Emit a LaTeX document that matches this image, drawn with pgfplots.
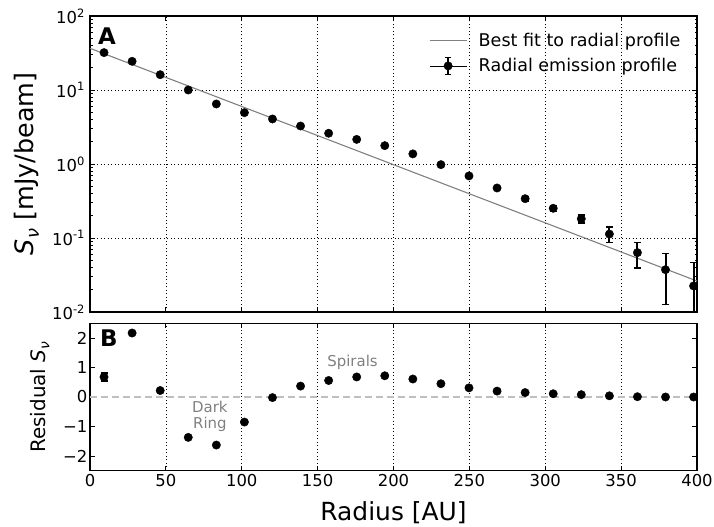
\documentclass[border=0pt]{standalone}
\usepackage{fontspec}
\setmainfont{DejaVu Sans}
\usepackage{pgfplots}
\pgfplotsset{compat=1.18}
\usepackage{pgfplotstable}

\definecolor{fitgray}{gray}{0.5}
\definecolor{zerogray}{gray}{0.75}
\definecolor{anngray}{gray}{0.5}

\newcommand{\Snu}[1]{{\itshape S}\kern0.02em\raisebox{-0.22em}{\fontsize{#1}{#1}\selectfont\itshape ν}}

\pgfplotstableread{
x y ep em
9.25 32.0 0.3 0.3
27.75 24.4 0.3 0.3
46.25 16.1 0.2 0.2
64.75 10.0 0.1 0.1
83.25 6.47 0.08 0.08
101.75 4.94 0.06 0.06
120.25 4.06 0.05 0.05
138.75 3.26 0.04 0.04
157.25 2.60 0.03 0.03
175.75 2.15 0.03 0.03
194.25 1.77 0.03 0.03
212.75 1.37 0.03 0.03
231.25 0.98 0.025 0.025
249.75 0.69 0.025 0.025
268.25 0.474 0.02 0.02
286.75 0.34 0.022 0.022
305.25 0.252 0.025 0.025
323.75 0.182 0.022 0.022
342.25 0.113 0.027 0.026
360.75 0.0634 0.024 0.024
379.25 0.0373 0.024 0.0246
397.75 0.0225 0.024 0.0224
}\profile

\pgfplotstableread{
x y e
9.25 0.68 0.14
27.75 2.17 0.03
46.25 0.22 0.03
64.75 -1.37 0.03
83.25 -1.63 0.03
101.75 -0.85 0.03
120.25 -0.02 0.03
138.75 0.37 0.03
157.25 0.56 0.03
175.75 0.68 0.03
194.25 0.72 0.03
212.75 0.61 0.03
231.25 0.45 0.03
249.75 0.31 0.03
268.25 0.20 0.03
286.75 0.15 0.03
305.25 0.11 0.03
323.75 0.08 0.03
342.25 0.04 0.03
360.75 0.01 0.03
379.25 0.00 0.03
397.75 0.00 0.03
}\resid

\pgfplotsset{
  mystyle/.style={
    scale only axis,
    width=607bp,
    xmin=0, xmax=400,
    axis line style={line width=1.2bp, black},
    tick style={line width=0.9bp, black},
    tick align=inside,
    major tick length=5bp,
    minor tick length=2.5bp,
    ticklabel style={font=\fontsize{16.5}{18}\selectfont},
    major grid style={black, line width=0.7bp, dash pattern=on 1bp off 2.5bp},
    xtick={0,50,...,400},
    xminorticks=false,
  }
}

\begin{document}
\begin{tikzpicture}
\path[use as bounding box] (0,0) rectangle (714bp,527bp);

\begin{axis}[
  mystyle,
  at={(90bp,215bp)}, anchor=south west,
  height=296bp,
  ymode=log, ymin=0.01, ymax=100,
  ytick={0.01,0.1,1,10,100},
  yticklabels={10\textsuperscript{-2},10\textsuperscript{-1},10\textsuperscript{0},10\textsuperscript{1},10\textsuperscript{2}},
  yticklabel style={anchor=east, xshift=-1.5bp},
  xticklabels={},
  xmajorgrids, ymajorgrids,
  ylabel={\Snu{18} [mJy/beam]},
  ylabel style={at={(axis description cs:-0.1048,0.5)}, anchor=center, inner sep=0pt, font=\fontsize{25.5}{28}\selectfont},
  legend style={draw=none, fill=none, at={(1,1)}, anchor=north east, xshift=-14bp, yshift=-14bp,
    font=\fontsize{17.6}{20}\selectfont, row sep=6bp, column sep=9bp, inner sep=0pt,
    nodes={inner sep=2.5bp}},
  legend cell align=left,
]
\addplot[fitgray, line width=1.1bp,
  legend image code/.code={\draw[fitgray, line width=1.1bp] (0bp,0bp) -- (37bp,0bp);}]
  coordinates {(0,36.6) (400,0.0262)};
\addlegendentry{Best fit to radial profile}

\addplot[black, only marks, mark=*, mark size=4.2bp,
  legend image code/.code={
    \path (0bp,0bp) -- (37bp,0bp);
    \draw[black, line width=1.6bp] (18.5bp,-8.5bp) -- (18.5bp,8.5bp);
    \draw[black, line width=1.4bp] (15.5bp,8.5bp) -- (21.5bp,8.5bp);
    \draw[black, line width=1.4bp] (15.5bp,-8.5bp) -- (21.5bp,-8.5bp);
    \fill[black] (18.5bp,0bp) circle (4.2bp);},
  error bars/.cd, y dir=both, y explicit,
  error bar style={line width=2bp, black},
  error mark options={rotate=90, mark size=3.5bp, line width=1.5bp, black}]
  table[x=x, y=y, y error plus=ep, y error minus=em] {\profile};
\addlegendentry{Radial emission profile}

\node[anchor=north west, inner sep=0pt, font=\bfseries\fontsize{23}{23}\selectfont] at (rel axis cs:0.013,0.962) {A};
\end{axis}

\begin{axis}[
  mystyle,
  at={(90bp,56.3bp)}, anchor=south west,
  height=147.4bp,
  ymin=-2.5, ymax=2.5,
  ytick={-2,-1,0,1,2},
  yticklabels={−2,−1,0,1,2},
  yticklabel style={inner sep=2.5bp},
  xticklabels={0,50,100,150,200,250,300,350,400},
  xmajorgrids,
  ylabel={Residual \Snu{14}},
  ylabel style={at={(axis description cs:-0.083,0.5)}, anchor=center, font=\fontsize{20}{24}\selectfont},
  xlabel={Radius [AU]},
  xlabel style={at={(axis description cs:0.5,-0.3345)}, anchor=base, font=\fontsize{25}{28}\selectfont},
]
\addplot[zerogray, line width=1.6bp, dash pattern=on 7bp off 4bp] coordinates {(0,0) (400,0)};
\addplot[black, only marks, mark=*, mark size=4.2bp,
  error bars/.cd, y dir=both, y explicit,
  error bar style={line width=2bp, black},
  error mark options={rotate=90, mark size=3.5bp, line width=1.5bp, black}]
  table[x=x, y=y, y error=e] {\resid};
\node[anchor=north west, inner sep=0pt, font=\bfseries\fontsize{23}{23}\selectfont] at (rel axis cs:0.0165,0.955) {B};
\node[anchor=center, align=center, text=anngray, font=\fontsize{15}{16.3}\selectfont] at (axis cs:79,-0.65) {Dark\\Ring};
\node[anchor=center, text=anngray, font=\fontsize{15}{16}\selectfont] at (axis cs:173,1.17) {Spirals};
\end{axis}
\end{tikzpicture}
\end{document}
